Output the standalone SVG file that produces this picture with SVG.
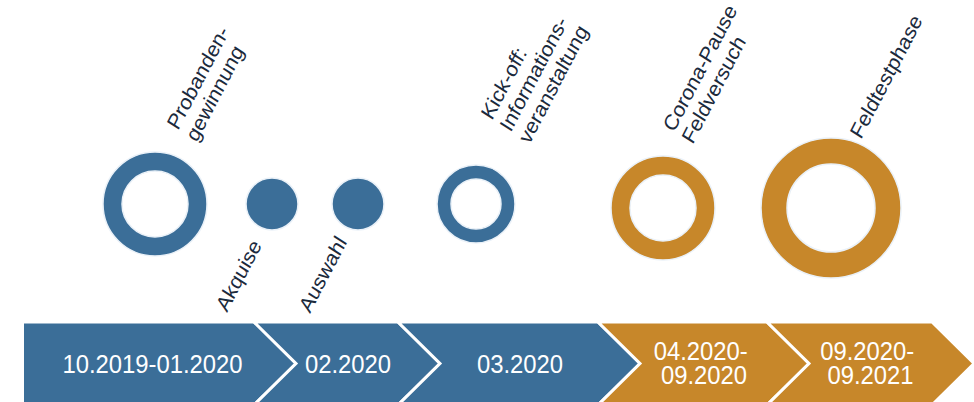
<svg xmlns="http://www.w3.org/2000/svg" width="974" height="402" viewBox="0 0 974 402">
  <style>
    .blue { fill: #3B6E98; }
    .orange { fill: #C7872A; }
    .ring { fill-rule: evenodd; stroke: #EAF1F8; stroke-width: 1.5; }
    .dot { stroke: #EAF1F8; stroke-width: 1.5; }
    .step { stroke: #FFFFFF; stroke-width: 3; stroke-linejoin: miter; }
    .label { font-family: "Liberation Sans", Arial, sans-serif; font-size: 22px; fill: #1B2A3C; }
    .date { font-family: "Liberation Sans", Arial, sans-serif; font-size: 26.5px; fill: #FFFFFF; text-anchor: middle; }
  </style>

  <rect width="974" height="402" fill="#FFFFFF"/>

  <!-- timeline milestones -->
  <g id="probandengewinnung">
    <path class="ring blue" d="M103,204 a52,52 0 1,0 104,0 a52,52 0 1,0 -104,0 Z M122,204 a33,33 0 1,0 66,0 a33,33 0 1,0 -66,0 Z"/>
    <text class="label" transform="translate(178,131) scale(0.9,1) rotate(-60)">
      <tspan x="0" y="0">Probanden-</tspan>
      <tspan x="0" y="24">gewinnung</tspan>
    </text>
  </g>

  <g id="akquise">
    <circle class="dot blue" cx="272" cy="204" r="26"/>
    <text class="label" transform="translate(227,313) scale(0.9,1) rotate(-60)">Akquise</text>
  </g>

  <g id="auswahl">
    <circle class="dot blue" cx="358" cy="204" r="26"/>
    <text class="label" transform="translate(310,314) scale(0.9,1) rotate(-60)">Auswahl</text>
  </g>

  <g id="kickoff">
    <path class="ring blue" d="M437,204 a39,39 0 1,0 78,0 a39,39 0 1,0 -78,0 Z M451,204 a25,25 0 1,0 50,0 a25,25 0 1,0 -50,0 Z"/>
    <text class="label" transform="translate(492,121) scale(0.9,1) rotate(-60)">
      <tspan x="0" y="0">Kick-off:</tspan>
      <tspan x="0" y="24">Informations-</tspan>
      <tspan x="0" y="48">veranstaltung</tspan>
    </text>
  </g>

  <g id="corona-pause">
    <path class="ring orange" d="M611,208 a52,52 0 1,0 104,0 a52,52 0 1,0 -104,0 Z M630,208 a33,33 0 1,0 66,0 a33,33 0 1,0 -66,0 Z"/>
    <text class="label" transform="translate(674,133) scale(0.9,1) rotate(-60)">
      <tspan x="0" y="0">Corona-Pause</tspan>
      <tspan x="0" y="24">Feldversuch</tspan>
    </text>
  </g>

  <g id="feldtestphase">
    <path class="ring orange" d="M761,208 a70,70 0 1,0 140,0 a70,70 0 1,0 -140,0 Z M787,208 a44,44 0 1,0 88,0 a44,44 0 1,0 -88,0 Z"/>
    <text class="label" transform="translate(861,140) scale(0.9,1) rotate(-60)">Feldtestphase</text>
  </g>

  <!-- chevron process bar -->
  <g id="phase-1">
    <polygon class="step blue" points="22.5,322 254,322 296,363.5 254,405 22.5,405"/>
    <text class="date" transform="translate(152.5,373) scale(0.9,1)">10.2019-01.2020</text>
  </g>
  <g id="phase-2">
    <polygon class="step blue" points="254,322 398,322 440,363.5 398,405 254,405 296,363.5"/>
    <text class="date" transform="translate(348,373) scale(0.9,1)">02.2020</text>
  </g>
  <g id="phase-3">
    <polygon class="step blue" points="398,322 598,322 640,363.5 598,405 398,405 440,363.5"/>
    <text class="date" transform="translate(520,373) scale(0.9,1)">03.2020</text>
  </g>
  <g id="phase-4">
    <polygon class="step orange" points="598,322 767,322 809,363.5 767,405 598,405 640,363.5"/>
    <text class="date" transform="translate(704,360) scale(0.9,1)">
      <tspan x="0" y="0">04.2020-</tspan>
      <tspan x="0" y="24">09.2020</tspan>
    </text>
  </g>
  <g id="phase-5">
    <polygon class="step orange" points="767,322 932,322 974,363.5 932,405 767,405 809,363.5"/>
    <text class="date" transform="translate(870.5,360) scale(0.9,1)">
      <tspan x="0" y="0">09.2020-</tspan>
      <tspan x="0" y="24">09.2021</tspan>
    </text>
  </g>

  <!-- no connectors between milestones -->
  <g id="connectors"/>
</svg>
